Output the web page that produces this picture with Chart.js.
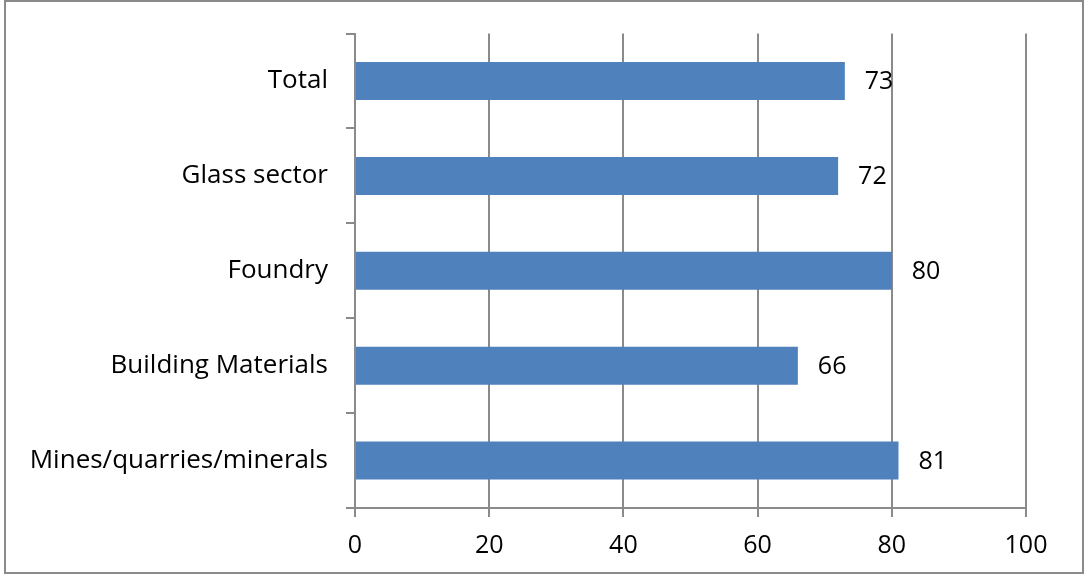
<!DOCTYPE html>
<html>
<head>
<meta charset="utf-8">
<script src="https://cdn.jsdelivr.net/npm/chart.js@4.4.1/dist/chart.umd.min.js"></script>
<style>
  html, body { margin: 0; padding: 0; background: #fff; }
  #frame {
    position: absolute; left: 4px; top: 0px;
    width: 1076px; height: 570px;
    border: 2px solid #8a8a8a;
  }
  #wrap { position: absolute; left: 0; top: 0; width: 1084px; height: 574px; }
</style>
</head>
<body>
<div id="frame"></div>
<div id="wrap"><canvas id="chart" width="1084" height="574"></canvas></div>
<script>
// Categories listed top to bottom
const categories = ['Total', 'Glass sector', 'Foundry', 'Building Materials', 'Mines/quarries/minerals'];
const values = [73, 72, 80, 66, 81];
const xTicks = [0, 20, 40, 60, 80, 100];

const gridColor = '#8a8a8a';
const numFont = { family: 'Open Sans', size: 25 };
const catFont = { family: 'Open Sans', size: 26 };

// Draws the value next to the end of each bar
const valueLabels = {
    id: 'valueLabels',
    afterDatasetsDraw(chart) {
        const ctx = chart.ctx;
        const meta = chart.getDatasetMeta(0);
        ctx.save();
        ctx.fillStyle = '#000';
        ctx.font = `${numFont.size}px ${numFont.family}`;
        ctx.textAlign = 'left';
        ctx.textBaseline = 'middle';
        meta.data.forEach((bar, i) => {
            ctx.fillText(String(values[i]), bar.x + 20, bar.y + 1);
        });
        ctx.restore();
    }
};

new Chart(document.getElementById('chart'), {
    type: 'bar',
    data: {
        labels: categories,
        datasets: [{
            data: values,
            backgroundColor: '#4F81BD',
            borderWidth: 0,
            barPercentage: 0.4,
            categoryPercentage: 1
        }]
    },
    options: {
        indexAxis: 'y',
        responsive: false,
        animation: false,
        layout: { padding: { left: 0, top: 29, right: 58, bottom: 0 } },
        plugins: {
            legend: { display: false },
            tooltip: { enabled: false }
        },
        scales: {
            x: {
                min: 0,
                max: 100,
                afterBuildTicks: (scale) => { scale.ticks = xTicks.map(v => ({ value: v })); },
                afterFit: (scale) => { scale.height = 66; },
                ticks: { color: '#000', font: numFont, padding: 14 },
                grid: { color: gridColor, lineWidth: 2, tickLength: 9, drawOnChartArea: true },
                border: { display: true, color: gridColor, width: 2 }
            },
            y: {
                afterFit: (scale) => { scale.width = 355; },
                ticks: { color: '#000', font: catFont, padding: 18 },
                grid: { color: gridColor, lineWidth: 2, tickLength: 9, drawOnChartArea: false, offset: true },
                border: { display: true, color: gridColor, width: 2 }
            }
        }
    },
    plugins: [valueLabels]
});
</script>
</body>
</html>
